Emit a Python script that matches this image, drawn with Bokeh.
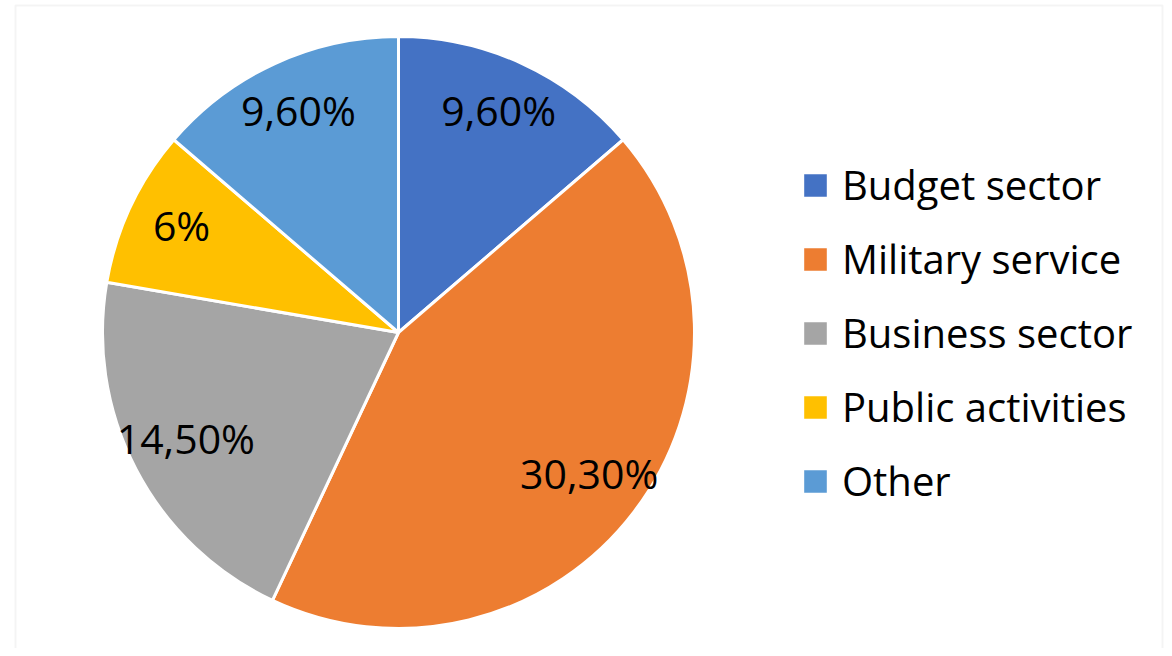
import math
from bokeh.plotting import figure
from bokeh.models import Range1d, ColumnDataSource, Legend, LegendItem, BoxAnnotation
from bokeh.core.properties import value
from bokeh.embed import file_html
from bokeh.resources import INLINE

categories = ["Budget sector", "Military service", "Business sector", "Public activities", "Other"]
values = [9.6, 30.3, 14.5, 6.0, 9.6]
labels = ["9,60%", "30,30%", "14,50%", "6%", "9,60%"]
colors = ["#4472C4", "#ED7D31", "#A5A5A5", "#FFC000", "#5B9BD5"]

W, H = 1164, 648
p = figure(width=W, height=H, output_backend="svg", toolbar_location=None,
           x_range=Range1d(0, W), y_range=Range1d(0, H), min_border=0)
p.axis.visible = False
p.grid.visible = False
p.outline_line_color = None
p.background_fill_color = "white"
p.border_fill_color = "white"

cx, cy, R = 398, 316, 296
total = sum(values)
starts, ends, lx, ly = [], [], [], []
cum = 0.0
for v in values:
    a0 = cum / total * 2 * math.pi
    cum += v
    a1 = cum / total * 2 * math.pi
    # clockwise from top -> bokeh ccw angles from +x
    starts.append(math.pi / 2 - a1)
    ends.append(math.pi / 2 - a0)
    mid = (a0 + a1) / 2
    lr = 0.81 * R
    lx.append(cx + lr * math.sin(mid))
    ly.append(cy + lr * math.cos(mid))

src = ColumnDataSource(dict(cat=categories, val=values, lab=labels, color=colors,
                            start=starts, end=ends, lx=lx, ly=ly,
                            x=[cx] * len(values), y=[cy] * len(values)))

r = p.wedge(x="x", y="y", radius=R, start_angle="start", end_angle="end",
            fill_color="color", line_color="white", line_width=3, source=src)

p.text(x="lx", y="ly", text="lab", source=src, text_align="center", text_baseline="middle",
       y_offset=-5, text_font=value("Open Sans"), text_font_size="41px", text_color="black")

items = [LegendItem(label=c, renderers=[r], index=i) for i, c in enumerate(categories)]
legend = Legend(items=items, location=(799, 140), orientation="vertical",
                glyph_width=32, glyph_height=32, label_height=32,
                label_standoff=11, spacing=19, padding=0, margin=0,
                label_text_font="Open Sans", label_text_font_size="40px",
                label_text_color="black", border_line_alpha=0,
                background_fill_alpha=0)
p.add_layout(legend, "center")

frame = BoxAnnotation(left=15, right=1162, bottom=-20, top=643, fill_alpha=0,
                      line_color="#d9d9d9", line_width=2)
p.add_layout(frame)

open("out.html", "w").write(file_html(p, INLINE))
